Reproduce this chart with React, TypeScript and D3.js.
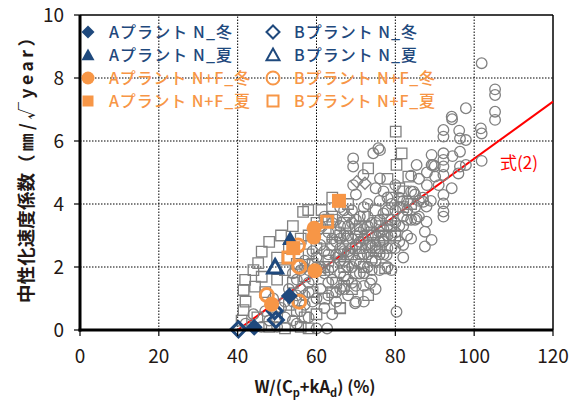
import * as d3 from "d3";

const xTicks = [0, 20, 40, 60, 80, 100, 120];
const yTicks = [0, 2, 4, 6, 8, 10];

// A plant (filled markers)
const aWinterN = [[44.2, 0.09], [53.1, 1.08]];
const aSummerN = [[53.3, 2.9]];
const aWinterNF = [[59.4, 3.23], [59.3, 2.95], [59.6, 1.88], [48.6, 0.82]];
const aSummerNF = [[65.7, 4.1], [54.1, 2.6]];

// B plant (open markers)
const bWinterN = [[40.2, 0.02], [49.4, 0.6], [49.7, 0.32]];
const bSummerN = [[49.5, 2.0]];
const bWinterNF = [[47.4, 1.11], [55.6, 0.9], [55.3, 2.68], [55.6, 2.01]];
const bSummerNF = [[62.7, 3.44], [52.9, 2.3]];

// other data (gray)
const grayCircles = [
  [42, 0.2], [44, 0.5], [46, 0.1], [47, 0.6], [48, 0.3], [49, 1.0], [50, 0.1], [51, 0.7],
  [52, 0.4], [53, 1.3], [54, 0.9], [55, 0.2], [55, 1.6], [56, 0.6], [57, 1.1], [57, 2.2],
  [58, 0.4], [58, 1.5], [59, 0.9], [60, 0.05], [60, 2.0], [61, 1.3], [61, 2.7], [62, 0.7],
  [62, 1.8], [62.7, 0.05], [63, 1.1], [63, 2.4], [63, 3.1], [64, 0.5], [64, 1.6], [64, 2.0],
  [65, 0.9], [65, 2.8], [65, 3.5], [66, 1.3], [66, 2.2], [66, 2.6], [67, 1.7], [67, 3.0],
  [67, 3.8], [68, 1.1], [68, 2.0], [68, 2.5], [69, 1.5], [69, 2.9], [69, 3.4], [70, 0.9],
  [70, 2.2], [70, 2.7], [70, 4.3], [71, 1.8], [71, 3.1], [71, 3.6], [72, 1.4], [72, 2.4],
  [72, 2.9], [73, 2.0], [73, 3.3], [73, 4.0], [74, 1.6], [74, 2.6], [74, 3.0], [75, 2.2],
  [75, 3.4], [75, 4.5], [76, 1.9], [76, 2.8], [77, 2.4], [77, 3.2], [77, 3.7], [78, 2.0],
  [78, 3.0], [78, 4.2], [79, 2.6], [79, 3.5], [80, 3.1], [80, 3.8], [80, 4.6], [81, 2.8],
  [81, 3.3], [82, 3.6], [82, 4.1], [83, 3.0], [84, 4.4], [85, 3.5], [85, 3.9], [86, 4.8],
  [84, 2.9], [87, 4.2], [59, 2.5], [61, 3.3], [64, 2.9], [66, 3.3], [68, 3.0], [70, 3.5],
  [72, 3.2], [74, 2.2], [76, 3.1], [78, 2.6], [67, 2.2], [69, 2.0], [71, 2.4], [73, 2.7],
  [69.3, 5.45], [74.4, 5.61], [76.1, 5.71], [75.7, 5.77], [71.9, 4.92], [76.1, 4.81],
  [69.3, 4.6], [69.3, 5.19], [89.2, 5.56], [92.2, 5.61], [89.6, 5.24], [96, 4.97],
  [90.1, 4.87], [92.2, 4.92], [94.3, 4.5], [92.2, 4.29], [92.2, 4.02], [92.2, 3.76],
  [92.2, 3.6], [87.9, 3.92], [85.4, 3.54], [87.9, 3.44], [87.5, 3.12], [89.2, 2.86],
  [87.5, 2.65], [84.6, 4.39], [87.1, 4.07], [85.4, 5.24], [80.3, 0.58], [77.8, 2.38],
  [76.9, 2.86], [73.6, 1.48], [69.8, 0.85], [101.9, 8.47], [105.3, 7.64], [105.3, 7.46],
  [105.3, 6.93], [105.3, 6.67], [97.9, 7.04], [94.3, 6.77], [94.4, 6.69], [101.7, 6.4],
  [101.9, 6.24], [92.2, 6.35], [92.2, 6.14], [96.2, 6.33], [96.4, 6.08], [97.9, 6.03],
  [96.4, 5.66], [94.5, 5.52], [92.2, 5.4], [101.9, 5.37], [97.9, 5.24], [89.2, 5.24],
  [96.4, 5.19], [92.2, 5.19], [83, 3.5], [82, 2.3], [79, 1.9], [75, 1.3], [72, 0.9],
  [66, 1.8], [63, 1.5], [60, 1.0], [58, 1.9], [56, 1.3], [54, 0.3], [52, 0.9],
  [60, 2.3], [61, 2.0], [62, 2.5], [62, 3.6], [63, 1.9], [64, 3.4], [65, 2.4], [65, 1.2],
  [66, 2.9], [66, 3.9], [67, 2.5], [67, 1.3], [68, 3.3], [68, 1.6], [69, 2.6], [69, 3.8],
  [70, 3.0], [70, 1.4], [71, 2.1], [71, 2.8], [72, 3.9], [72, 1.8], [73, 2.4], [73, 3.6],
  [74, 3.4], [74, 1.9], [75, 2.7], [75, 3.0], [76, 2.4], [76, 3.5], [76, 4.1], [77, 2.8],
  [77, 4.4], [78, 3.3], [78, 3.8], [79, 3.0], [79, 4.0], [80, 2.6], [80, 3.4], [81, 3.9],
  [81, 4.2], [82, 2.7], [82, 3.3], [83, 4.1], [83, 3.8], [84, 3.5], [84, 4.9], [85, 4.3],
  [86, 3.6], [86, 4.1], [88, 4.6], [88, 5.0], [89, 4.1], [90, 5.2], [91, 4.6], [58, 1.2],
  [59, 1.6], [57, 0.8], [56, 1.9], [55, 1.1], [54, 1.8],
];
const graySquares = [
  [41, 0.3], [41.5, 0.63], [42, 0.9], [41.5, 1.27], [41.9, 1.59], [44, 1.9], [44.4, 1.38],
  [45.2, 2.12], [46.1, 2.49], [46.1, 1.69], [47, 1.2], [48, 2.8], [50, 1.6], [50, 2.3],
  [51, 3.0], [52, 1.9], [53, 0.8], [53, 2.6], [54, 1.5], [54, 3.3], [55, 2.1], [56, 2.9],
  [56, 0.1], [56.6, 3.75], [57.9, 3.81], [57, 1.7], [58, 2.4], [58, 3.0], [59, 1.2],
  [60, 3.4], [60, 2.6], [61.3, 3.81], [61, 1.9], [62, 2.9], [62, 1.0], [63, 2.2], [63, 3.5],
  [64, 2.7], [64, 4.2], [65, 1.5], [65, 3.1], [66, 2.4], [66, 0.7], [67, 3.4], [67, 2.0],
  [68, 2.9], [68, 4.0], [69, 2.4], [69, 1.3], [70, 3.2], [70, 1.8], [71, 2.6], [72, 3.6],
  [72, 2.0], [73.1, 5.13], [73.1, 1.11], [74, 3.1], [74, 2.3], [75, 3.8], [76, 2.6],
  [76, 3.3], [77.4, 1.96], [78, 3.5], [79, 4.2], [80, 3.0], [80.3, 5.24], [81, 4.5],
  [81.6, 5.61], [80.1, 6.3], [82, 3.9], [83.3, 4.87], [66, 0.69], [52, 0.05], [58, 0.05],
  [45, 0.4], [48, 0.1], [59, 2.1], [62, 2.0], [64, 3.6], [66, 3.0], [68, 2.4], [70, 2.6],
  [71, 3.3], [73, 3.0], [75, 2.5], [77, 3.0], [79, 3.3], [78, 4.8], [82, 4.4], [84, 4.0],
  [60, 0.5], [64, 1.2], [67, 1.4], [55, 0.6], [57, 0.4], [50, 0.4],
];
const grayDiamonds = [
  [70.2, 4.71], [72.3, 4.66], [61, 3.2], [65, 2.3], [57, 2.0], [68, 3.6], [74, 2.7],
];

// 式(2)
const eqLine = [[40, 0], [120, 7.25]];

const NAVY = "#1F497D";
const ORANGE = "#F79646";
const GRAY = "#808080";
const INK = "#231815";
const FONT = "'Noto Sans CJK JP', 'Noto Sans', sans-serif";

const legendItems = [
  { label: "Aプラント N_冬", shape: "diamond", filled: true, color: NAVY, col: 0, row: 0 },
  { label: "Aプラント N_夏", shape: "triangle", filled: true, color: NAVY, col: 0, row: 1 },
  { label: "Aプラント N+F_冬", shape: "circle", filled: true, color: ORANGE, col: 0, row: 2 },
  { label: "Aプラント N+F_夏", shape: "square", filled: true, color: ORANGE, col: 0, row: 3 },
  { label: "Bプラント N_冬", shape: "diamond", filled: false, color: NAVY, col: 1, row: 0 },
  { label: "Bプラント N_夏", shape: "triangle", filled: false, color: NAVY, col: 1, row: 1 },
  { label: "Bプラント N+F_冬", shape: "circle", filled: false, color: ORANGE, col: 1, row: 2 },
  { label: "Bプラント N+F_夏", shape: "square", filled: false, color: ORANGE, col: 1, row: 3 },
];

function shapePath(shape: string, s: number) {
  const h = s / 2;
  if (shape === "diamond") return `M0,${-h}L${h},0L0,${h}L${-h},0Z`;
  if (shape === "triangle") return `M0,${-h}L${h},${h * 0.8}L${-h},${h * 0.8}Z`;
  if (shape === "square") return `M${-h},${-h}H${h}V${h}H${-h}Z`;
  return `M${h},0A${h},${h} 0 1,1 ${-h},0A${h},${h} 0 1,1 ${h},0Z`;
}

function Marker({ shape, x, y, size, color, filled, sw = 2.5 }: any) {
  return (
    <path
      d={shapePath(shape, size)}
      transform={`translate(${x},${y})`}
      fill={filled ? color : "none"}
      stroke={filled ? "none" : color}
      strokeWidth={filled ? 0 : sw}
    />
  );
}

export default function App() {
  const width = 574;
  const height = 401;
  const x = d3.scaleLinear().domain([0, 120]).range([80, 553]);
  const y = d3.scaleLinear().domain([0, 10]).range([330, 15]);
  const line = d3.line<number[]>().x((d) => x(d[0])).y((d) => y(d[1]));

  const series = [
    { data: bWinterN, shape: "diamond", filled: false, color: NAVY, size: 15 },
    { data: bSummerN, shape: "triangle", filled: false, color: NAVY, size: 15 },
    { data: bWinterNF, shape: "circle", filled: false, color: ORANGE, size: 13 },
    { data: bSummerNF, shape: "square", filled: false, color: ORANGE, size: 11 },
    { data: aWinterN, shape: "diamond", filled: true, color: NAVY, size: 17 },
    { data: aSummerN, shape: "triangle", filled: true, color: NAVY, size: 16 },
    { data: aWinterNF, shape: "circle", filled: true, color: ORANGE, size: 15 },
    { data: aSummerNF, shape: "square", filled: true, color: ORANGE, size: 14 },
  ];

  return (
    <svg
      width={width}
      height={height}
      style={{ position: "absolute", left: 0, top: 0, background: "#fff" }}
      fontFamily={FONT}
    >
      {/* grid */}
      {xTicks.slice(1, -1).map((t) => (
        <line key={"gx" + t} x1={x(t)} x2={x(t)} y1={y(0)} y2={y(10)} stroke="#000" strokeWidth={1} strokeDasharray="1.5,1.5" />
      ))}
      {yTicks.slice(1, -1).map((t) => (
        <line key={"gy" + t} x1={x(0)} x2={x(120)} y1={y(t)} y2={y(t)} stroke="#000" strokeWidth={1} strokeDasharray="1.5,1.5" />
      ))}
      {/* frame top/right */}
      <line x1={x(0)} x2={x(120)} y1={y(10)} y2={y(10)} stroke="#000" strokeWidth={1.5} />
      <line x1={x(120)} x2={x(120)} y1={y(0)} y2={y(10)} stroke="#000" strokeWidth={1.5} />

      {/* 式(2) */}
      <path d={line(eqLine as any) || ""} stroke="#FF0000" strokeWidth={2} fill="none" />

      {/* gray data */}
      {grayCircles.map((d, i) => (
        <circle key={"c" + i} cx={x(d[0])} cy={y(d[1])} r={5.3} fill="none" stroke={GRAY} strokeWidth={1.3} />
      ))}
      {graySquares.map((d, i) => (
        <Marker key={"s" + i} shape="square" x={x(d[0])} y={y(d[1])} size={10.5} color={GRAY} filled={false} sw={1.3} />
      ))}
      {grayDiamonds.map((d, i) => (
        <Marker key={"d" + i} shape="diamond" x={x(d[0])} y={y(d[1])} size={12} color={GRAY} filled={false} sw={1.3} />
      ))}

      {/* plant data */}
      {series.map((s, si) =>
        s.data.map((d, i) => (
          <Marker key={si + "-" + i} shape={s.shape} x={x(d[0])} y={y(d[1])} size={s.size} color={s.color} filled={s.filled} sw={3} />
        ))
      )}

      {/* axes */}
      <line x1={x(0)} x2={x(0)} y1={y(0) + 1.5} y2={y(10)} stroke="#000" strokeWidth={3} />
      <line x1={x(0) - 1.5} x2={x(120)} y1={y(0)} y2={y(0)} stroke="#000" strokeWidth={3} />
      {xTicks.map((t) => (
        <g key={"xt" + t}>
          <line x1={x(t)} x2={x(t)} y1={y(0)} y2={y(0) + 6} stroke="#000" strokeWidth={1.2} />
          <text x={x(t)} y={363} textAnchor="middle" fontSize={19} fill={INK}>{t}</text>
        </g>
      ))}
      {yTicks.map((t) => (
        <g key={"yt" + t}>
          <line x1={x(0) - 6} x2={x(0)} y1={y(t)} y2={y(t)} stroke="#000" strokeWidth={1.2} />
          <text x={64} y={y(t) + 7} textAnchor="end" fontSize={19} fill={INK}>{t}</text>
        </g>
      ))}

      {/* axis titles */}
      <text x={315} y={393} textAnchor="middle" fontSize={16.5} fontWeight="bold" fill={INK}>
        W/(C<tspan fontSize={11} dy={4}>p</tspan>
        <tspan dy={-4}>+kA</tspan>
        <tspan fontSize={11} dy={4}>d</tspan>
        <tspan dy={-4}>) (%)</tspan>
      </text>
      <g transform="translate(33,0) rotate(-90)" fill={INK} fontWeight="bold">
        <text x={-303} y={0} fontSize={18.5} textLength={130} lengthAdjust="spacing">中性化速度係数</text>
        <text x={-172} y={0} fontSize={17.5} textLength={143} lengthAdjust="spacing">（㎜/√year）</text>
      </g>

      <text x={500} y={169} fontSize={17} fill="#FF0000">式(2)</text>

      {/* legend */}
      {legendItems.map((it) => {
        const mx = it.col === 0 ? 88 : 273;
        const my = 32 + it.row * 23;
        return (
          <g key={it.label}>
            <Marker
              shape={it.shape}
              x={mx}
              y={my}
              size={it.shape === "square" ? 11 : 13}
              color={it.color}
              filled={it.filled}
              sw={2}
            />
            <text
              x={mx + 21}
              y={my + 6}
              fontSize={16}
              fontWeight={500}
              fill={it.color}
              textLength={it.label.includes("+") ? 141 : 123}
              lengthAdjust="spacing"
            >
              {it.label}
            </text>
          </g>
        );
      })}
    </svg>
  );
}
